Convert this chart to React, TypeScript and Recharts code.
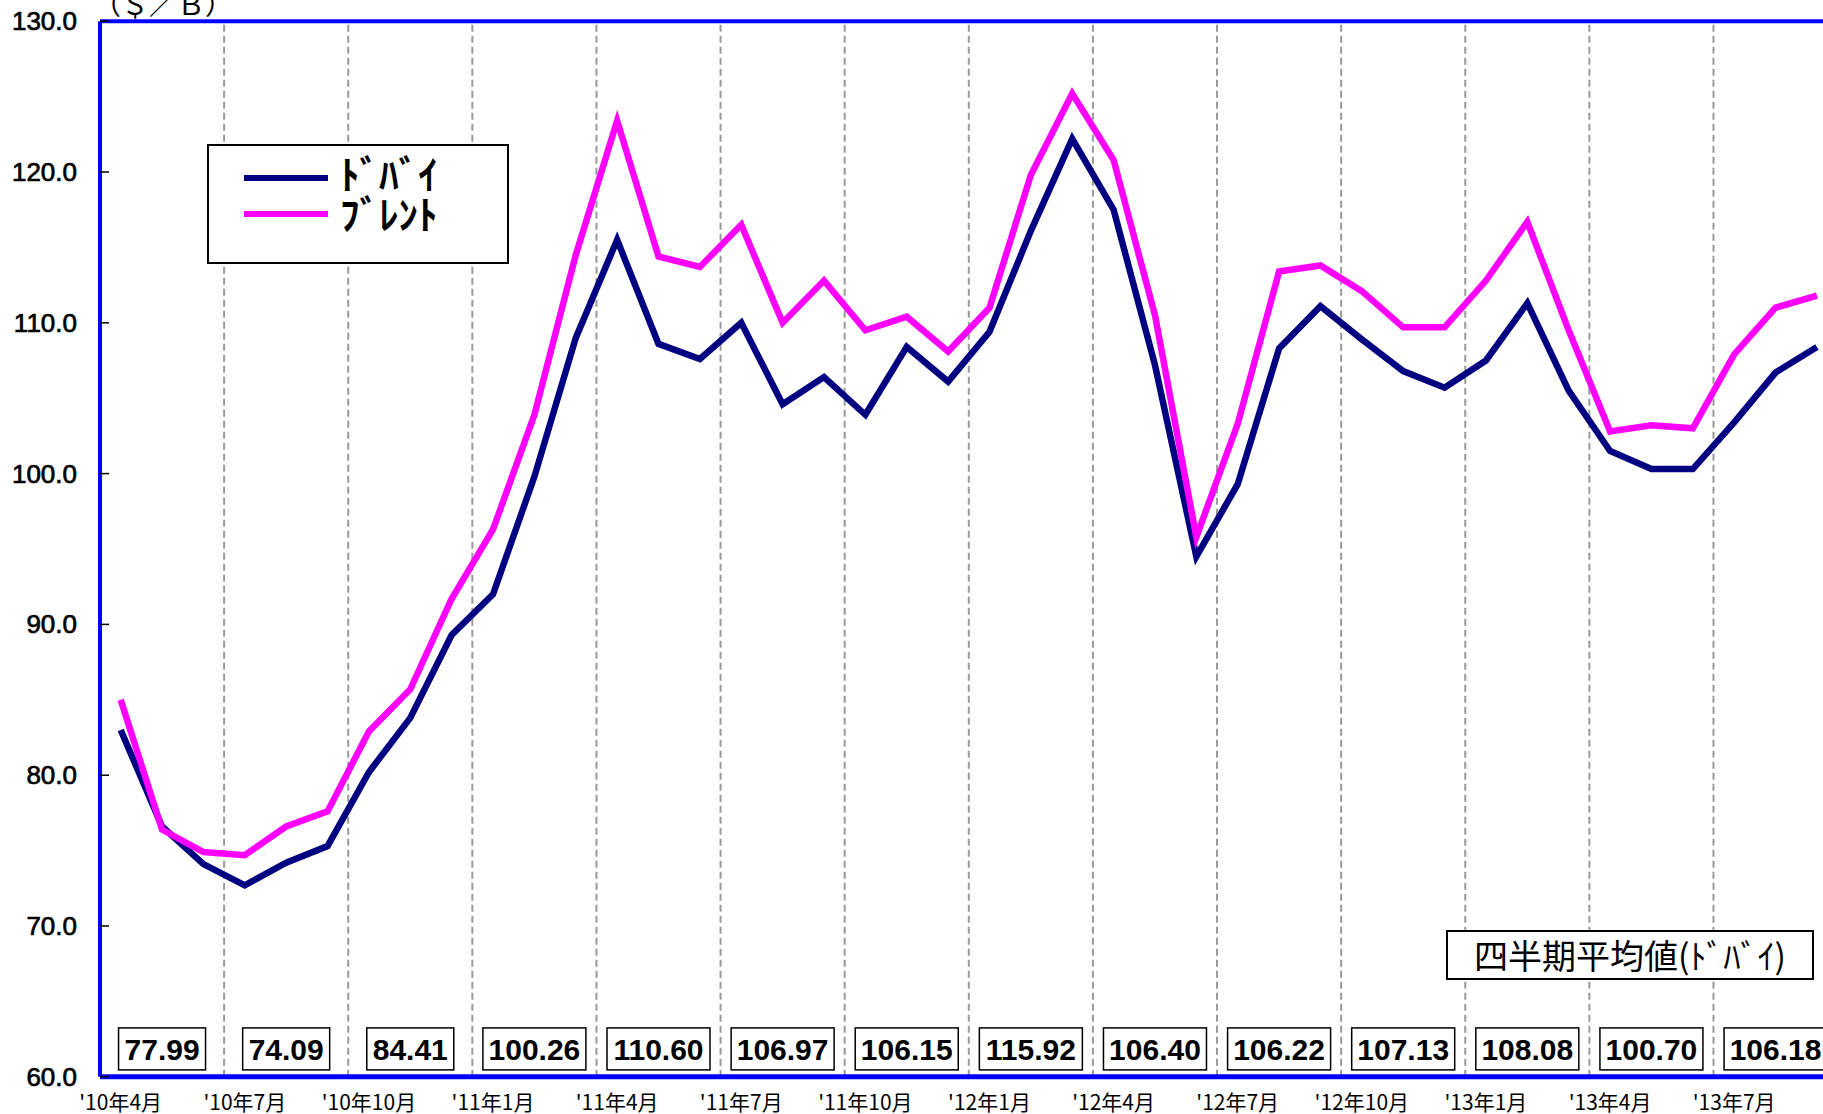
import { LineChart, Line, XAxis, YAxis, ReferenceLine, ReferenceDot, Legend } from "recharts";

// 月次原油価格 ($/B)
const months = [
  "'10年4月", "'10年5月", "'10年6月", "'10年7月", "'10年8月", "'10年9月",
  "'10年10月", "'10年11月", "'10年12月", "'11年1月", "'11年2月", "'11年3月",
  "'11年4月", "'11年5月", "'11年6月", "'11年7月", "'11年8月", "'11年9月",
  "'11年10月", "'11年11月", "'11年12月", "'12年1月", "'12年2月", "'12年3月",
  "'12年4月", "'12年5月", "'12年6月", "'12年7月", "'12年8月", "'12年9月",
  "'12年10月", "'12年11月", "'12年12月", "'13年1月", "'13年2月", "'13年3月",
  "'13年4月", "'13年5月", "'13年6月", "'13年7月", "'13年8月", "'13年9月",
];

const dubai = [
  83.0, 76.6, 74.1, 72.7, 74.2, 75.3, 80.2, 83.8, 89.3, 92.0, 99.8, 109.0,
  115.5, 108.6, 107.6, 110.0, 104.6, 106.4, 103.9, 108.4, 106.1, 109.4, 116.1, 122.2,
  117.5, 107.2, 94.5, 99.3, 108.3, 111.1, 108.9, 106.8, 105.7, 107.5, 111.3, 105.5,
  101.5, 100.3, 100.3, 103.4, 106.7, 108.4,
];

const brent = [
  85.0, 76.4, 74.9, 74.7, 76.6, 77.6, 82.9, 85.7, 91.7, 96.3, 103.9, 114.5,
  123.4, 114.4, 113.7, 116.5, 110.0, 112.8, 109.5, 110.4, 108.1, 111.0, 119.8, 125.2,
  120.8, 110.5, 95.8, 103.3, 113.4, 113.8, 112.1, 109.7, 109.7, 112.8, 116.7, 109.5,
  102.8, 103.2, 103.0, 107.9, 111.0, 111.8,
];

// 四半期平均値(ﾄﾞﾊﾞｲ)
const quarterAvg = [
  77.99, 74.09, 84.41, 100.26, 110.6, 106.97, 106.15,
  115.92, 106.4, 106.22, 107.13, 108.08, 100.7, 106.18,
];

const yTicks = [60, 70, 80, 90, 100, 110, 120, 130];

const data = months.map((m, i) => ({ idx: i, month: m, dubai: dubai[i], brent: brent[i] }));
const xTicks = quarterAvg.map((_, q) => q * 3);
const quarterBounds = quarterAvg.slice(1).map((_, q) => q * 3 + 2.5);

const BOX_Y = 61.85;
const NUM_FONT = "'Liberation Sans', Arial, sans-serif";
const JP_FONT = "'Noto Sans CJK JP', sans-serif";

function YTick(props: any) {
  const { x, y, payload } = props;
  return (
    <g>
      <text
        x={x}
        y={y}
        textAnchor="end"
        dominantBaseline="central"
        fontSize={26}
        fontFamily={NUM_FONT}
        fill="#000"
        stroke="#000"
        strokeWidth={0.7}
      >
        {Number(payload.value).toFixed(1)}
      </text>
      <line x1={x + 23} x2={x + 32} y1={y} y2={y} stroke="#000" strokeWidth={1.5} />
    </g>
  );
}

function QuarterBox({ cx, cy, value }: any) {
  const label = value.toFixed(2);
  const w = label.length * 16 + 7;
  const h = 42;
  return (
    <g>
      <rect x={cx - w / 2} y={cy - h / 2} width={w} height={h} fill="#fff" stroke="#000" strokeWidth={1.5} />
      <text x={cx} y={cy + 1} textAnchor="middle" dominantBaseline="central" fontSize={30} fontWeight="bold" fontFamily={NUM_FONT} fill="#000">
        {label}
      </text>
    </g>
  );
}

function LegendBox({ payload }: any) {
  return (
    <div style={{ position: "relative", width: 302, height: 120, boxSizing: "border-box", border: "2px solid #000", background: "#fff" }}>
      {(payload || []).map((p: any, i: number) => (
        <div key={p.value}>
          <div style={{ position: "absolute", left: 35, top: 29 + i * 36, width: 84, height: 6, background: p.color }} />
          <div style={{ position: "absolute", left: 131, top: 8 + i * 40, fontSize: 39, lineHeight: "36px", fontWeight: "bold", fontFamily: JP_FONT, color: "#000" }}>
            {p.value}
          </div>
        </div>
      ))}
    </div>
  );
}

export default function App() {
  return (
    <div style={{ position: "fixed", left: 0, top: 0, width: 1823, height: 1114, overflow: "hidden", background: "#fff" }}>
      <div style={{ position: "absolute", left: 93, top: -13, fontSize: 28, lineHeight: "32px", fontFamily: JP_FONT, color: "#000", whiteSpace: "nowrap" }}>
        （＄／Ｂ）
      </div>
      <LineChart width={1860} height={1114} data={data} margin={{ top: 21.2, right: 22.4, left: 0, bottom: 0 }}>
        {quarterBounds.map((b) => (
          <ReferenceLine key={b} x={b} stroke="#9a9a9a" strokeWidth={2} strokeDasharray="7 4" />
        ))}
        <XAxis
          dataKey="idx"
          type="number"
          domain={[-0.5, 41.5]}
          ticks={xTicks}
          interval={0}
          tickFormatter={(v: number) => months[v]}
          height={37.2}
          axisLine={{ stroke: "#0000FF", strokeWidth: 5 }}
          tickLine={false}
          tickSize={0}
          tickMargin={18}
          tick={{ fontSize: 21, fill: "#000", fontFamily: JP_FONT }}
        />
        <YAxis
          domain={[60, 130]}
          ticks={yTicks}
          interval={0}
          width={100}
          axisLine={{ stroke: "#0000FF", strokeWidth: 4 }}
          tickLine={false}
          tickSize={0}
          tickMargin={23}
          tick={<YTick />}
        />
        <ReferenceLine y={130} stroke="#0000FF" strokeWidth={4} />
        <Line dataKey="dubai" name="ﾄﾞﾊﾞｲ" stroke="#000080" strokeWidth={6.5} dot={false} activeDot={false} isAnimationActive={false} />
        <Line dataKey="brent" name="ﾌﾞﾚﾝﾄ" stroke="#FF00FF" strokeWidth={6.5} dot={false} activeDot={false} isAnimationActive={false} />
        {quarterAvg.map((v, q) => (
          <ReferenceDot key={q} x={q * 3 + 1} y={BOX_Y} r={0} shape={(p: any) => <QuarterBox {...p} value={v} />} />
        ))}
        <Legend
          layout="horizontal"
          verticalAlign="middle"
          wrapperStyle={{ left: 207, top: 144, width: 302, height: 120 }}
          content={(props: any) => <LegendBox {...props} />}
        />
      </LineChart>
      <div
        style={{
          position: "absolute",
          left: 1446,
          top: 930,
          width: 368,
          height: 50,
          boxSizing: "border-box",
          border: "2px solid #000",
          background: "#fff",
          fontSize: 34,
          lineHeight: "46px",
          fontFamily: JP_FONT,
          textAlign: "center",
          color: "#000",
          whiteSpace: "nowrap",
        }}
      >
        四半期平均値(ﾄﾞﾊﾞｲ)
      </div>
    </div>
  );
}
